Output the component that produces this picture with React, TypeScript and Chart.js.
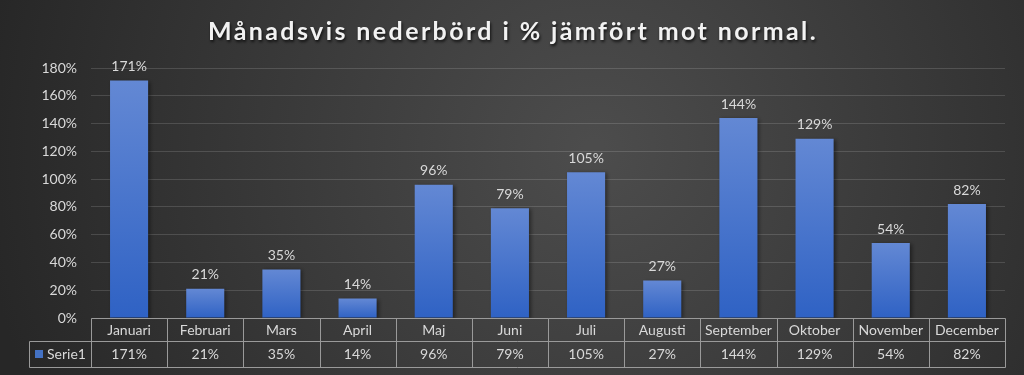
import React, { useEffect, useRef } from "react";
import { Chart, registerables } from "chart.js";

Chart.register(...registerables);

const TITLE = "Månadsvis nederbörd i % jämfört mot normal.";
const SERIES_NAME = "Serie1";
const MONTHS = ["Januari", "Februari", "Mars", "April", "Maj", "Juni", "Juli", "Augusti", "September", "Oktober", "November", "December"];
const VALUES = [171, 21, 35, 14, 96, 79, 105, 27, 144, 129, 54, 82];
const Y_MAX = 180;
const Y_STEP = 20;

const FONT = "Lato, 'Liberation Sans', sans-serif";
const TEXT_COLOR = "#d9d9d9";
const LINE_COLOR = "#9a9a9a";
const FS = 14;

const bgPlugin = {
  id: "bgPlugin",
  beforeDraw(chart: any) {
    const { ctx, width, height } = chart;
    ctx.save();
    const g = ctx.createRadialGradient(width * 0.58, height * 0.4, 10, width * 0.58, height * 0.4, width * 0.6);
    g.addColorStop(0, "#4c4c4c");
    g.addColorStop(1, "#272727");
    ctx.fillStyle = g;
    ctx.fillRect(0, 0, width, height);
    ctx.font = `bold 25px ${FONT}`;
    (ctx as any).letterSpacing = "2.4px";
    ctx.textAlign = "center";
    ctx.textBaseline = "alphabetic";
    ctx.shadowColor = "rgba(0,0,0,0.75)";
    ctx.shadowBlur = 3;
    ctx.shadowOffsetX = 1;
    ctx.shadowOffsetY = 2;
    ctx.fillStyle = "#f2f2f2";
    ctx.fillText(TITLE, width / 2 + 1, 40);
    ctx.restore();
  },
  beforeDatasetsDraw(chart: any) {
    const ctx = chart.ctx;
    ctx.save();
    ctx.shadowColor = "rgba(0,0,0,0.45)";
    ctx.shadowBlur = 4;
    ctx.shadowOffsetX = 2;
    ctx.shadowOffsetY = 1;
  },
  afterDatasetsDraw(chart: any) {
    const ctx = chart.ctx;
    ctx.restore();
    const meta = chart.getDatasetMeta(0);
    ctx.save();
    ctx.font = `${FS}px ${FONT}`;
    ctx.fillStyle = TEXT_COLOR;
    ctx.textAlign = "center";
    ctx.textBaseline = "bottom";
    meta.data.forEach((bar: any, i: number) => {
      ctx.fillText(`${VALUES[i]}%`, bar.x, bar.y - 7);
    });
    ctx.restore();
  },
  afterDraw(chart: any) {
    const { ctx, chartArea } = chart;
    const x = chart.scales.x;
    const left = chartArea.left;
    const right = chartArea.right;
    const top = chartArea.bottom;
    const mid = top + 23;
    const bot = top + 48.5;
    const legendLeft = 29.5;
    const cw = (right - left) / MONTHS.length;
    ctx.save();
    ctx.strokeStyle = LINE_COLOR;
    ctx.lineWidth = 1;
    ctx.beginPath();
    const R = Math.round(right) + 0.5;
    const T = Math.round(top) + 0.5;
    const M = Math.round(mid) + 0.5;
    const B = Math.round(bot) + 0.5;
    const L = Math.round(left) + 0.5;
    ctx.moveTo(L, T); ctx.lineTo(R, T);
    ctx.moveTo(legendLeft, M); ctx.lineTo(R, M);
    ctx.moveTo(legendLeft, B); ctx.lineTo(R, B);
    ctx.moveTo(legendLeft, M); ctx.lineTo(legendLeft, B);
    for (let i = 0; i <= MONTHS.length; i++) {
      const xx = Math.round(left + i * cw) + 0.5;
      ctx.moveTo(xx, T); ctx.lineTo(xx, B);
    }
    ctx.stroke();
    ctx.font = `${FS}px ${FONT}`;
    ctx.fillStyle = TEXT_COLOR;
    ctx.textAlign = "center";
    ctx.textBaseline = "middle";
    MONTHS.forEach((m, i) => {
      const cx = x.getPixelForValue(i);
      ctx.fillText(m, cx, (top + mid) / 2 + 1);
      ctx.fillText(`${VALUES[i]}%`, cx, (mid + bot) / 2 + 1);
    });
    ctx.fillStyle = "#4472c4";
    ctx.fillRect(35, Math.round((mid + bot) / 2) - 4, 8, 8);
    ctx.fillStyle = TEXT_COLOR;
    ctx.textAlign = "left";
    ctx.fillText(SERIES_NAME, 47, (mid + bot) / 2 + 1);
    ctx.restore();
  },
};

export default function App() {
  const ref = useRef<HTMLCanvasElement>(null);
  useEffect(() => {
    document.body.style.margin = "0";
    const chart = new Chart(ref.current!, {
      type: "bar",
      data: {
        labels: MONTHS,
        datasets: [
          {
            label: SERIES_NAME,
            data: VALUES,
            categoryPercentage: 1,
            barPercentage: 0.5,
            backgroundColor: (c: any) => {
              const chart = c.chart;
              const ys = chart.scales && chart.scales.y;
              if (!chart.chartArea || !ys || c.type !== "data") return "#4a78cc";
              const y0 = ys.getPixelForValue(c.raw);
              const y1 = ys.getPixelForValue(0);
              if (!isFinite(y0) || !isFinite(y1) || y0 === y1) return "#4a78cc";
              const g = chart.ctx.createLinearGradient(0, y0, 0, y1);
              g.addColorStop(0, "#6388d4");
              g.addColorStop(1, "#2f62c4");
              return g;
            },
            borderWidth: 0,
          },
        ],
      },
      options: {
        animation: false,
        responsive: false,
        maintainAspectRatio: false,
        layout: { padding: { top: 68, bottom: 57, right: 19, left: 0 } },
        plugins: { legend: { display: false }, title: { display: false }, tooltip: { enabled: false } },
        scales: {
          x: { display: false },
          y: {
            min: 0,
            max: Y_MAX,
            border: { display: false },
            grid: { color: "rgba(255,255,255,0.14)", drawTicks: false, lineWidth: 1 },
            ticks: {
              stepSize: Y_STEP,
              padding: 14,
              color: TEXT_COLOR,
              font: { family: FONT, size: FS },
              callback: (v: any) => `${v}%`,
            },
            afterFit: (s: any) => {
              s.width = 91;
            },
          },
        },
      },
      plugins: [bgPlugin],
    });
    return () => chart.destroy();
  }, []);
  return (
    <div style={{ position: "fixed", left: 0, top: 0, width: 1024, height: 375 }}>
      <canvas ref={ref} width={1024} height={375} style={{ width: 1024, height: 375, display: "block" }} />
    </div>
  );
}
